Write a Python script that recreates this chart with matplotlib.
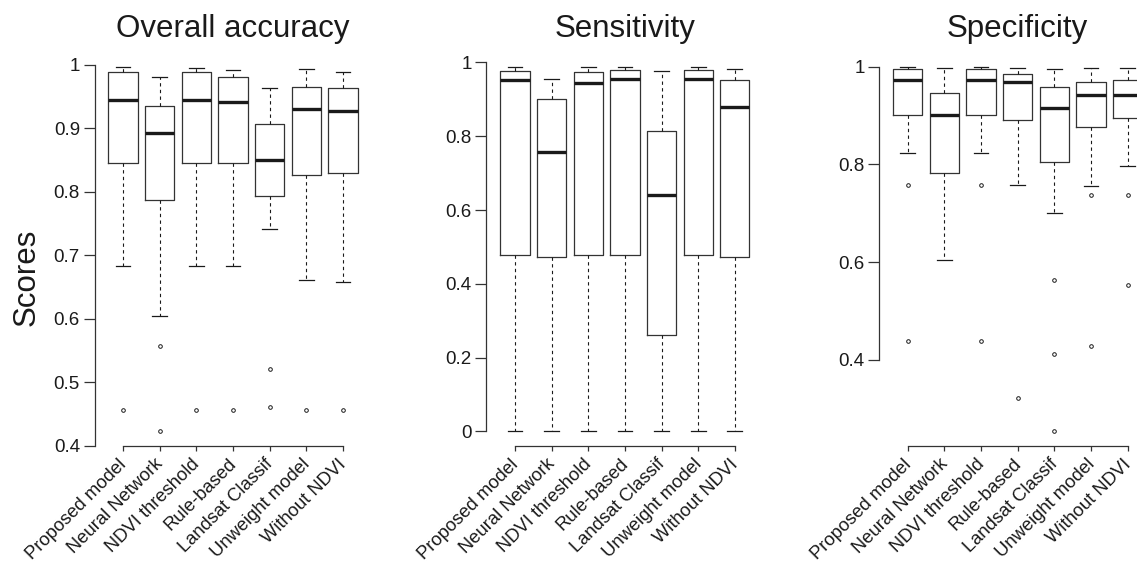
import matplotlib
matplotlib.use("Agg")
import matplotlib.pyplot as plt
from matplotlib.transforms import ScaledTranslation

plt.rcParams['font.family'] = ['Liberation Sans', 'DejaVu Sans']

methods = ['Proposed model', 'Neural Network', 'NDVI threshold', 'Rule-based',
           'Landsat Classif', 'Unweight model', 'Without NDVI']

# Overall accuracy
oa_whislo = [0.684, 0.605, 0.684, 0.684, 0.741, 0.661, 0.658]
oa_q1 = [0.845, 0.787, 0.845, 0.845, 0.793, 0.827, 0.829]
oa_med = [0.945, 0.892, 0.945, 0.942, 0.850, 0.930, 0.927]
oa_q3 = [0.988, 0.935, 0.988, 0.981, 0.907, 0.965, 0.964]
oa_whishi = [0.996, 0.981, 0.995, 0.991, 0.964, 0.994, 0.988]
oa_fliers = [[0.457], [0.558, 0.423], [0.457], [0.457], [0.521, 0.462], [0.457], [0.457]]

# Sensitivity
se_whislo = [0.0, 0.0, 0.0, 0.0, 0.0, 0.0, 0.0]
se_q1 = [0.477, 0.472, 0.477, 0.477, 0.262, 0.478, 0.473]
se_med = [0.952, 0.757, 0.944, 0.954, 0.640, 0.954, 0.880]
se_q3 = [0.978, 0.900, 0.973, 0.980, 0.814, 0.979, 0.952]
se_whishi = [0.987, 0.956, 0.987, 0.987, 0.976, 0.987, 0.983]
se_fliers = [[], [], [], [], [], [], []]

# Specificity
sp_whislo = [0.823, 0.605, 0.823, 0.757, 0.700, 0.756, 0.797]
sp_q1 = [0.902, 0.782, 0.902, 0.891, 0.805, 0.877, 0.896]
sp_med = [0.973, 0.901, 0.973, 0.969, 0.915, 0.943, 0.943]
sp_q3 = [0.995, 0.947, 0.995, 0.985, 0.958, 0.969, 0.972]
sp_whishi = [0.999, 0.997, 0.999, 0.997, 0.996, 0.997, 0.997]
sp_fliers = [[0.757, 0.438], [], [0.757, 0.438], [0.321], [0.563, 0.412, 0.253],
             [0.737, 0.427], [0.737, 0.552]]

panels = [
    ('Overall accuracy', oa_whislo, oa_q1, oa_med, oa_q3, oa_whishi, oa_fliers,
     [0.4, 0.5, 0.6, 0.7, 0.8, 0.9, 1.0], ['0.4', '0.5', '0.6', '0.7', '0.8', '0.9', '1']),
    ('Sensitivity', se_whislo, se_q1, se_med, se_q3, se_whishi, se_fliers,
     [0, 0.2, 0.4, 0.6, 0.8, 1.0], ['0', '0.2', '0.4', '0.6', '0.8', '1']),
    ('Specificity', sp_whislo, sp_q1, sp_med, sp_q3, sp_whishi, sp_fliers,
     [0.4, 0.6, 0.8, 1.0], ['0.4', '0.6', '0.8', '1']),
]

W, H = 1137, 563
fig = plt.figure(figsize=(W / 100, H / 100), dpi=100)

lefts = [94.5, 486.4, 879.1]
ax_w = 277.0
ax_top, ax_bot = 52.7, 446.0
ink = '#1a1a1a'

for left, (title, wlo, q1, med, q3, whi, fl, yt, ytl) in zip(lefts, panels):
    ax = fig.add_axes([left / W, (H - ax_bot) / H, ax_w / W, (ax_bot - ax_top) / H])
    stats = []
    for i in range(len(methods)):
        stats.append(dict(whislo=wlo[i], q1=q1[i], med=med[i], q3=q3[i],
                          whishi=whi[i], fliers=fl[i], label=methods[i]))
    pos = list(range(1, len(methods) + 1))
    ax.bxp(stats, positions=pos, widths=0.8, capwidths=0.4, patch_artist=False,
           boxprops=dict(color='#333333', linewidth=0.9),
           medianprops=dict(color=ink, linewidth=2.4, solid_capstyle='butt'),
           whiskerprops=dict(color=ink, linewidth=0.8, linestyle=(0, (3, 3))),
           capprops=dict(color=ink, linewidth=0.9),
           flierprops=dict(marker='o', markersize=2.6, markerfacecolor='none',
                           markeredgecolor=ink, markeredgewidth=0.7))

    # R-style axis limits: data range with 4% padding
    allv = wlo + whi + [v for f in fl for v in f]
    lo, hi = min(allv), max(allv)
    pad = 0.04 * (hi - lo)
    ax.set_ylim(lo - pad, hi + pad)
    ax.set_xlim(0.5 - 0.28, len(methods) + 0.5 + 0.28)

    for s in ['top', 'right']:
        ax.spines[s].set_visible(False)
    ax.spines['left'].set_bounds(yt[0], yt[-1])
    ax.spines['bottom'].set_bounds(1, len(methods))
    for s in ['left', 'bottom']:
        ax.spines[s].set_color('#333333')
        ax.spines[s].set_linewidth(0.9)

    ax.set_yticks(yt, ytl)
    ax.tick_params(axis='y', length=8, width=0.9, color='#333333', labelsize=13.5,
                   labelcolor=ink, pad=2.5)
    ax.set_xticks(pos)
    ax.set_xticklabels(methods, rotation=45, ha='right', va='top', rotation_mode='anchor')
    ax.tick_params(axis='x', length=3.3, width=0.9, color='#333333', labelsize=13.2,
                   labelcolor=ink, pad=3)
    shift = ScaledTranslation(-5 / 100, -1 / 100, fig.dpi_scale_trans)
    for lab in ax.get_xticklabels():
        lab.set_transform(lab.get_transform() + shift)
    ax.set_title(title, fontsize=22.5, color=ink, pad=11)

fig.text(27 / W, 1 - 277 / H, 'Scores', rotation=90, fontsize=22.5, color=ink,
         ha='center', va='center')

fig.savefig('out.png', dpi=100)
